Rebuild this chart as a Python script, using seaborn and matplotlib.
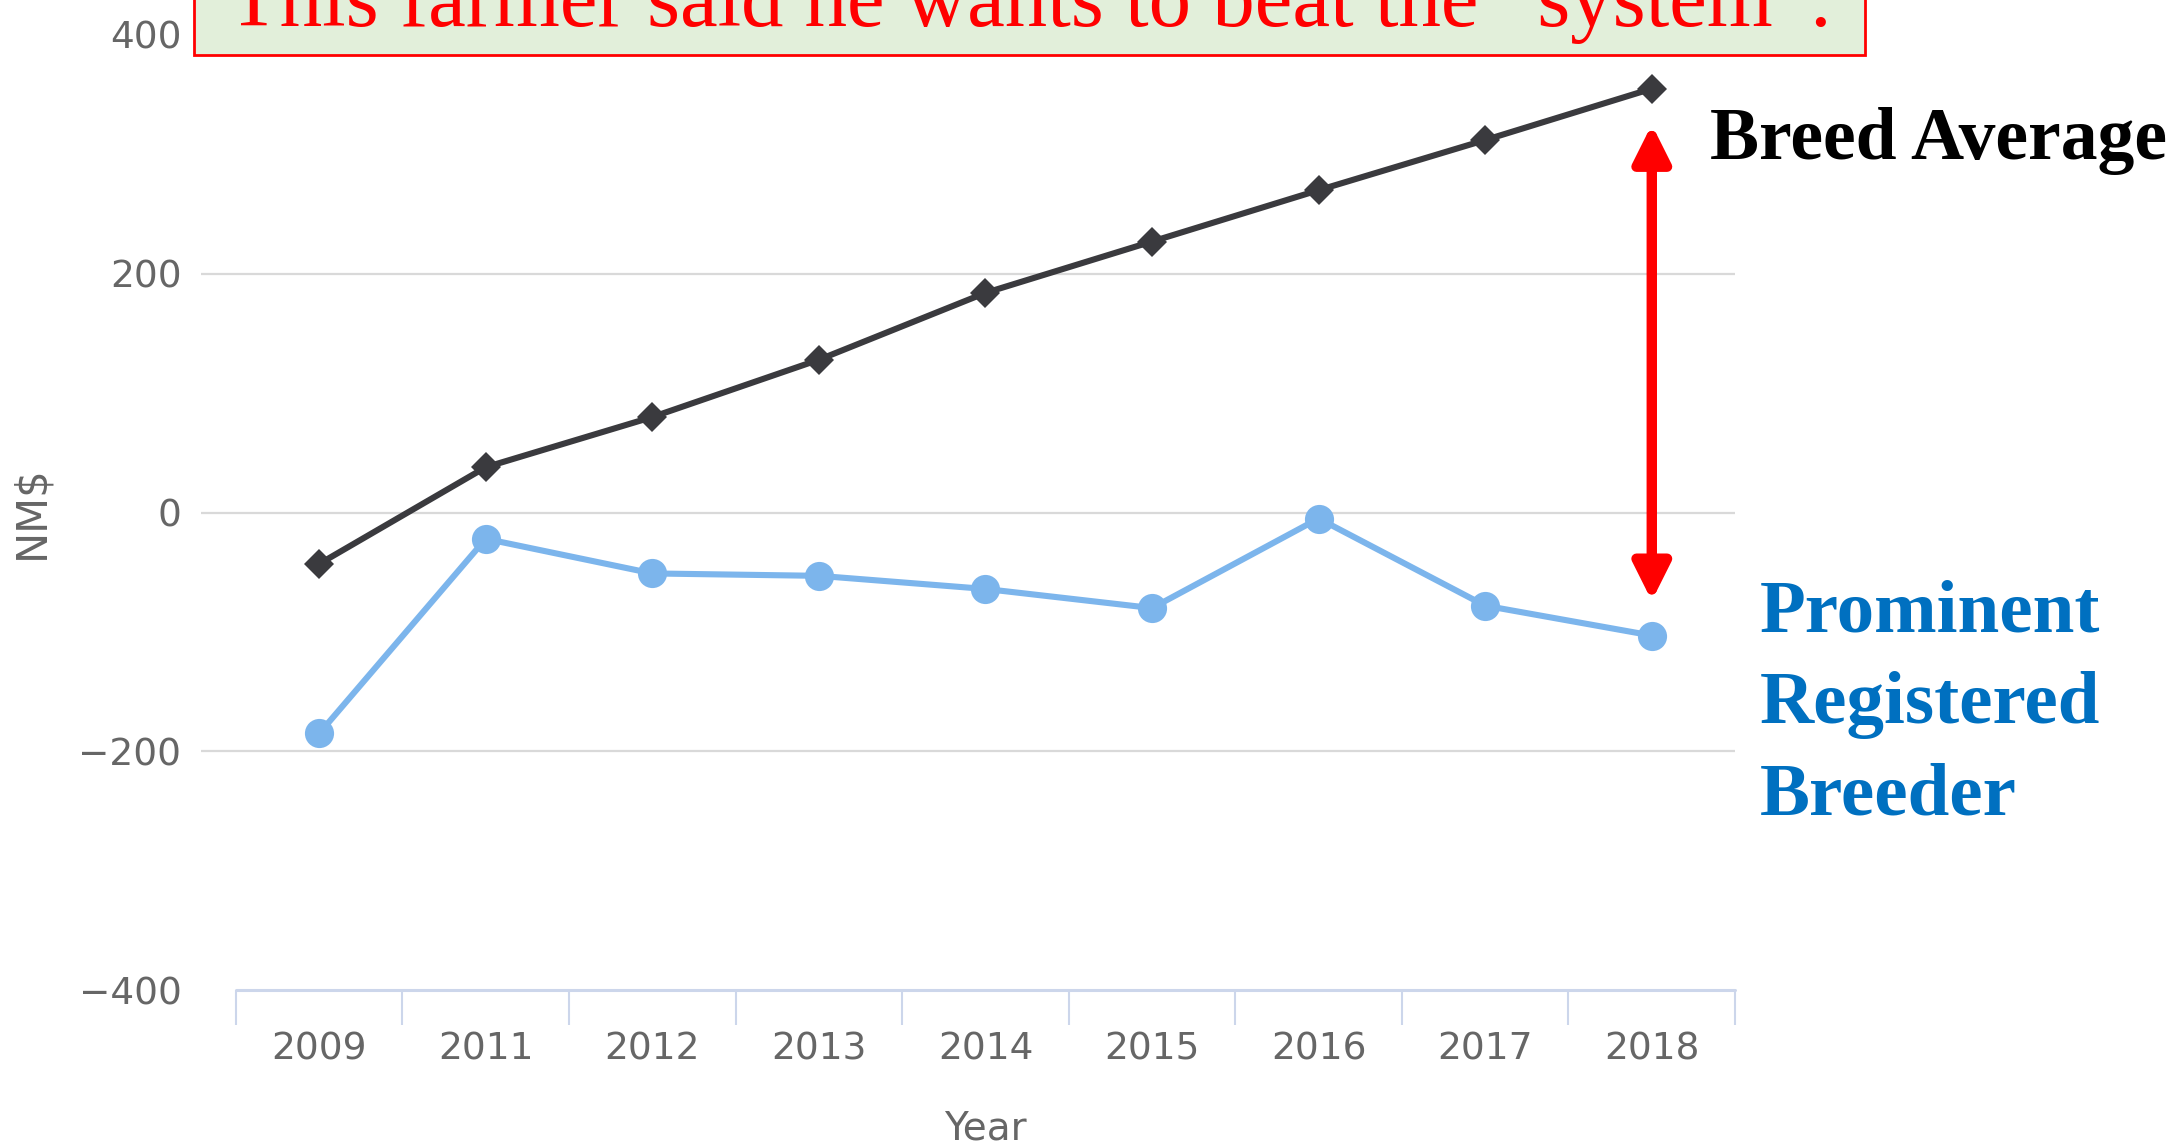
import matplotlib
matplotlib.use("Agg")
import matplotlib.pyplot as plt
from matplotlib.patches import Rectangle
import pandas as pd
import seaborn as sns

years = ["2009", "2011", "2012", "2013", "2014", "2015", "2016", "2017", "2018"]
breed_avg = [-43, 38, 80, 128, 184, 227, 270, 312, 355]
breeder = [-185, -22, -51, -53, -64, -80, -5, -78, -103]
y_ticks = [-400, -200, 0, 200, 400]

title_text = "This farmer said he wants to beat the \u201csystem\u201d."
breed_label = "Breed Average"
breeder_label = "Prominent\nRegistered\nBreeder"

df = pd.DataFrame({
    "Year": years * 2,
    "NM$": breed_avg + breeder,
    "series": ["Breed Average"] * len(years) + ["Breeder"] * len(years),
})

sns.set_style("white")
plt.rcParams["font.family"] = ["DejaVu Sans"]

fig = plt.figure(figsize=(21.77, 11.46), dpi=100)
ax = fig.add_axes([0.0923, 0.136, 0.7047, 0.8335])

grid_col = "#d9d9d9"
axis_col = "#ccd6eb"
text_col = "#666666"

for v in y_ticks[1:-1]:
    ax.axhline(v, color=grid_col, lw=1.6, zorder=0)

sns.lineplot(data=df[df.series == "Breed Average"], x="Year", y="NM$", ax=ax,
             color="#3a3a3e", lw=4.4, marker="D", markersize=15,
             markeredgewidth=0, zorder=3)
sns.lineplot(data=df[df.series == "Breeder"], x="Year", y="NM$", ax=ax,
             color="#7cb5ec", lw=4.4, marker="o", markersize=21,
             markeredgewidth=0, zorder=4)

ax.set_xlim(-0.71, 8.5)
ax.set_ylim(-400, 400)
ax.set_yticks(y_ticks)
ax.set_yticklabels([str(t).replace("-", "\u2212") for t in y_ticks])

# category axis line and boundary ticks
ax.plot([-0.5, 8.5], [-400, -400], color=axis_col, lw=2.2, clip_on=False, zorder=2)
ax.set_xticks(range(len(years)))
ax.set_xticklabels(years)
ax.set_xticks([b - 0.5 for b in range(10)], minor=True)
ax.tick_params(axis="x", which="minor", direction="out", length=25, width=1.5,
               color=axis_col, bottom=True)
ax.tick_params(axis="x", which="major", length=0, pad=30, labelsize=27, labelcolor=text_col)
ax.tick_params(axis="y", length=0, pad=14, labelsize=27, labelcolor=text_col)

for s in ax.spines.values():
    s.set_visible(False)

ax.set_xlabel("Year", fontsize=28, color=text_col)
ax.xaxis.set_label_coords(0.511, -0.125)
ax.set_ylabel("NM$", fontsize=30, color=text_col)
ax.yaxis.set_label_coords(-0.097, 0.5)

# red double arrow between the two 2018 values
ax.annotate("", xy=(8, 325), xytext=(8, -74),
            arrowprops=dict(arrowstyle="<|-|>,head_length=1.1,head_width=0.55",
                            color="red", lw=7.5, mutation_scale=20,
                            shrinkA=0, shrinkB=0))

serif = ["Liberation Serif", "DejaVu Serif"]
fig.text(1710 / 2177, 1 - 141 / 1146, breed_label, family=serif, fontweight="bold",
         fontsize=53, color="black", ha="left", va="center")
fig.text(1760 / 2177, 1 - 705 / 1146, breeder_label, family=serif, fontweight="bold",
         fontsize=54, color="#0070c0", ha="left", va="center", linespacing=1.45)

# title box, cut off by the top edge as in the source image
fig.patches.append(Rectangle((194 / 2177, 1 - 55 / 1146), (1865 - 194) / 2177, 80 / 1146,
                             transform=fig.transFigure, facecolor="#e2efda",
                             edgecolor="red", lw=2, zorder=5))
fig.text(1030 / 2177, 1 - 26 / 1146, title_text, family=serif, fontsize=61,
         color="red", ha="center", va="baseline", zorder=6)

fig.savefig("out.png", dpi=100)
